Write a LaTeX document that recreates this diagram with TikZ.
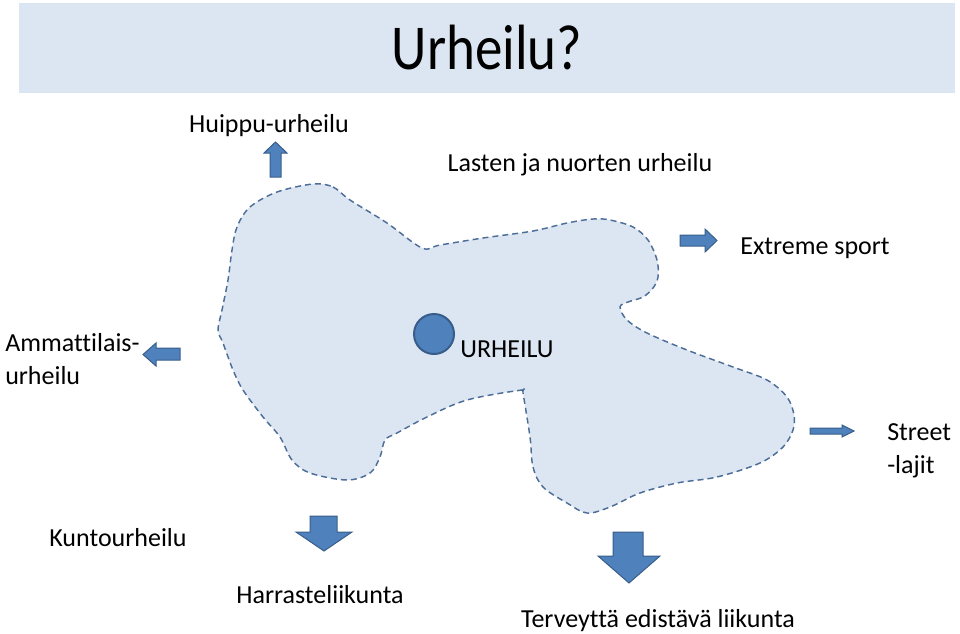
\documentclass[tikz,border=0pt]{standalone}
\usepackage{fontspec}
\setmainfont{Carlito}[Ligatures=NoCommon]
\definecolor{bandblue}{HTML}{DCE6F2}
\definecolor{arrowblue}{HTML}{4F81BD}
\definecolor{arrowedge}{HTML}{385D8A}
\definecolor{blobedge}{HTML}{4E6E98}

\begin{document}
\begin{tikzpicture}[x=0.75pt,y=-0.75pt,lbl/.style={font=\fontsize{19.5}{24.5}\selectfont,inner sep=0pt,anchor=base},blockarr/.style={fill=arrowblue,draw=arrowedge,line width=0.75pt,line join=miter},blob/.style={fill=bandblue,draw=blobedge,line width=1.1pt,dash pattern=on 4.5pt off 3pt}]
\useasboundingbox (0,0) rectangle (960,633);
\node[fill=bandblue,minimum width=702pt,minimum height=67.5pt,inner sep=0pt,font=\fontsize{48}{56}\selectfont] (title) at (487,48) {\scalebox{0.86}[1]{Urheilu?}};
\draw[blob] plot[smooth cycle,tension=0.55] coordinates {(313,184) (333,187) (350,200) (387,223) (422,248) (440,245) (483,238) (533,231) (567,223) (593,219) (610,220) (633,227) (648,240) (657,260) (658,277) (653,288) (643,297) (628,302) (620,307) (627,320) (647,333) (687,350) (733,367) (767,380) (787,397) (794,415) (793,430) (783,447) (760,463) (717,477) (677,483) (640,493) (610,507) (587,513) (567,503) (543,487) (533,467) (530,437) (523,393) (522,390) (467,400) (427,417) (397,433) (385,440) (380,457) (370,473) (347,480) (310,473) (292,460) (280,437) (263,417) (243,390) (233,370) (223,343) (218,330) (222,310) (228,280) (232,250) (237,227) (250,207) (277,192)};
\node[circle,fill=arrowblue,draw=arrowedge,line width=1.5pt,minimum size=30pt,inner sep=0pt] (core) at (434,334) {};
\node[lbl] (corelabel) at (507,357) {URHEILU};
\node[lbl] (top) at (269,132) {Huippu-urheilu};
\node[lbl] (youth) at (580,171) {Lasten ja nuorten urheilu};
\node[lbl] (extreme) at (815,254) {Extreme sport};
\node[lbl,anchor=west,align=left] (pro) at (5,359) {Ammattilais-\\urheilu};
\node[lbl,anchor=west,align=left] (street) at (887,451) {Street\\-lajit};
\node[lbl] (fitness) at (118,546) {Kuntourheilu};
\node[lbl] (hobby) at (320,603) {Harrasteliikunta};
\node[lbl] (health) at (658,627) {Terveyttä edistävä liikunta};
\draw[blockarr] (270,177)--(270,153)--(264,153)--(275.5,142)--(287,153)--(281,153)--(281,177)--cycle;
\draw[blockarr] (680,235)--(705,235)--(705,229)--(717,240.5)--(705,252)--(705,246)--(680,246)--cycle;
\draw[blockarr] (180,348)--(156,348)--(156,343)--(143,354.5)--(156,366)--(156,360)--(180,360)--cycle;
\draw[blockarr] (810,428)--(842,428)--(842,425)--(854,431)--(842,437)--(842,434)--(810,434)--cycle;
\draw[blockarr] (310,516)--(337,516)--(337,532)--(352,532)--(324,551)--(296,532)--(310,532)--cycle;
\draw[blockarr] (613,532)--(643,532)--(643,556)--(660,556)--(629,583)--(598,556)--(613,556)--cycle;
\end{tikzpicture}
\end{document}
